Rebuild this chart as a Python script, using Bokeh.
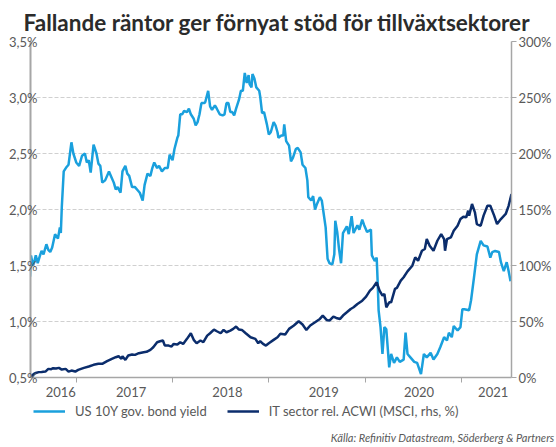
from bokeh.plotting import figure
from bokeh.models import (Range1d, LinearAxis, FixedTicker, CustomJSTickFormatter,
                          Legend, LegendItem, Label)
from bokeh.embed import file_html
from bokeh.resources import INLINE

# ---------------- data ----------------
yield_t = [2016.52, 2016.53, 2016.55, 2016.56, 2016.58, 2016.60, 2016.62, 2016.64, 2016.66, 2016.69,
           2016.71, 2016.73, 2016.75, 2016.78, 2016.81, 2016.83, 2016.84, 2016.85, 2016.87, 2016.90,
           2016.92, 2016.95, 2016.97, 2017.00, 2017.03, 2017.06, 2017.09, 2017.11, 2017.13, 2017.15,
           2017.18, 2017.21, 2017.23, 2017.25, 2017.27, 2017.30, 2017.34, 2017.36, 2017.39, 2017.41,
           2017.43, 2017.46, 2017.48, 2017.51, 2017.53, 2017.55, 2017.58, 2017.61, 2017.64, 2017.66,
           2017.69, 2017.71, 2017.74, 2017.77, 2017.79, 2017.81, 2017.84, 2017.86, 2017.89, 2017.92,
           2017.95, 2017.97, 2018.00, 2018.02, 2018.05, 2018.06, 2018.08, 2018.10, 2018.12, 2018.15,
           2018.17, 2018.19, 2018.22, 2018.24, 2018.26, 2018.28, 2018.30, 2018.33, 2018.34, 2018.37,
           2018.39, 2018.41, 2018.44, 2018.46, 2018.49, 2018.52, 2018.54, 2018.56, 2018.58, 2018.60,
           2018.62, 2018.64, 2018.66, 2018.69, 2018.71, 2018.73, 2018.75, 2018.77, 2018.79, 2018.80,
           2018.82, 2018.83, 2018.85, 2018.87, 2018.90, 2018.91, 2018.93, 2018.95, 2018.98, 2019.00,
           2019.02, 2019.05, 2019.07, 2019.09, 2019.10, 2019.13, 2019.15, 2019.16, 2019.18, 2019.21,
           2019.23, 2019.25, 2019.28, 2019.30, 2019.33, 2019.35, 2019.38, 2019.40, 2019.41, 2019.44,
           2019.46, 2019.48, 2019.50, 2019.53, 2019.55, 2019.59, 2019.61, 2019.63, 2019.66, 2019.68,
           2019.69, 2019.71, 2019.73, 2019.75, 2019.77, 2019.81, 2019.83, 2019.86, 2019.88, 2019.92,
           2019.94, 2019.97, 2019.99, 2020.02, 2020.06, 2020.07, 2020.10, 2020.12, 2020.13, 2020.14,
           2020.16, 2020.18, 2020.20, 2020.22, 2020.25, 2020.27, 2020.30, 2020.33, 2020.36, 2020.40,
           2020.42, 2020.44, 2020.47, 2020.51, 2020.54, 2020.58, 2020.61, 2020.64, 2020.68, 2020.71,
           2020.75, 2020.78, 2020.82, 2020.85, 2020.87, 2020.90, 2020.92, 2020.96, 2020.99, 2021.01,
           2021.03, 2021.08, 2021.10, 2021.13, 2021.16, 2021.20, 2021.23, 2021.27, 2021.30, 2021.32,
           2021.35, 2021.39, 2021.41, 2021.44, 2021.47, 2021.49, 2021.51]
yield_v = [1.40, 1.59, 1.50, 1.52, 1.59, 1.52, 1.58, 1.63, 1.60, 1.69,
           1.64, 1.62, 1.66, 1.78, 1.74, 1.84, 1.79, 2.02, 2.34, 2.38,
           2.40, 2.60, 2.50, 2.42, 2.39, 2.48, 2.50, 2.42, 2.44, 2.33,
           2.58, 2.50, 2.41, 2.39, 2.24, 2.26, 2.34, 2.30, 2.24, 2.18,
           2.20, 2.15, 2.34, 2.39, 2.32, 2.30, 2.20, 2.20, 2.17, 2.15,
           2.08, 2.22, 2.32, 2.30, 2.37, 2.42, 2.37, 2.39, 2.34, 2.37,
           2.37, 2.49, 2.44, 2.54, 2.64, 2.66, 2.85, 2.85, 2.88, 2.87,
           2.90, 2.85, 2.81, 2.75, 2.78, 2.85, 2.95, 2.95, 2.96, 3.06,
           2.92, 2.89, 2.93, 2.90, 2.85, 2.84, 2.85, 2.95, 2.95, 2.87,
           2.87, 2.84, 2.90, 2.98, 3.06, 3.06, 3.22, 3.13, 3.20, 3.12,
           3.09, 3.21, 3.17, 3.09, 3.06, 3.01, 2.86, 2.87, 2.76, 2.67,
           2.69, 2.78, 2.75, 2.69, 2.64, 2.66, 2.66, 2.76, 2.61, 2.57,
           2.43, 2.46, 2.54, 2.55, 2.51, 2.40, 2.37, 2.26, 2.11, 2.08,
           2.12, 2.00, 2.05, 2.11, 2.08, 1.84, 1.56, 1.52, 1.51, 1.60,
           1.90, 1.80, 1.64, 1.52, 1.79, 1.85, 1.78, 1.94, 1.79, 1.86,
           1.82, 1.91, 1.86, 1.80, 1.82, 1.59, 1.54, 1.57, 1.36, 1.10,
           0.95, 0.71, 0.95, 0.93, 0.59, 0.71, 0.63, 0.68, 0.64, 0.66,
           0.90, 0.71, 0.68, 0.64, 0.63, 0.53, 0.71, 0.68, 0.72, 0.66,
           0.71, 0.77, 0.86, 0.83, 0.90, 0.86, 0.96, 0.92, 0.95, 1.11,
           1.11, 1.10, 1.19, 1.39, 1.60, 1.72, 1.68, 1.67, 1.57, 1.62,
           1.63, 1.62, 1.53, 1.45, 1.53, 1.45, 1.36]

it_t = [2016.52, 2016.54, 2016.56, 2016.58, 2016.61, 2016.64, 2016.68, 2016.71, 2016.74, 2016.76,
        2016.79, 2016.82, 2016.85, 2016.89, 2016.92, 2016.95, 2016.99, 2017.02, 2017.08, 2017.13,
        2017.18, 2017.23, 2017.27, 2017.32, 2017.37, 2017.41, 2017.44, 2017.47, 2017.48, 2017.51,
        2017.54, 2017.58, 2017.61, 2017.65, 2017.70, 2017.73, 2017.77, 2017.80, 2017.84, 2017.87,
        2017.90, 2017.92, 2017.96, 2017.99, 2018.01, 2018.05, 2018.08, 2018.11, 2018.15, 2018.19,
        2018.22, 2018.25, 2018.29, 2018.32, 2018.36, 2018.39, 2018.43, 2018.46, 2018.50, 2018.53,
        2018.56, 2018.60, 2018.63, 2018.66, 2018.69, 2018.72, 2018.76, 2018.81, 2018.86, 2018.89,
        2018.91, 2018.94, 2018.97, 2019.00, 2019.05, 2019.09, 2019.12, 2019.17, 2019.21, 2019.26,
        2019.31, 2019.35, 2019.39, 2019.43, 2019.48, 2019.53, 2019.56, 2019.60, 2019.63, 2019.67,
        2019.70, 2019.74, 2019.77, 2019.81, 2019.85, 2019.88, 2019.92, 2019.97, 2020.01, 2020.05,
        2020.08, 2020.12, 2020.15, 2020.18, 2020.20, 2020.22, 2020.25, 2020.27, 2020.31, 2020.33,
        2020.37, 2020.40, 2020.44, 2020.49, 2020.52, 2020.55, 2020.59, 2020.62, 2020.64, 2020.67,
        2020.71, 2020.75, 2020.79, 2020.82, 2020.83, 2020.85, 2020.89, 2020.92, 2020.96, 2020.99,
        2021.02, 2021.05, 2021.07, 2021.08, 2021.11, 2021.14, 2021.16, 2021.20, 2021.23, 2021.27,
        2021.30, 2021.34, 2021.37, 2021.41, 2021.46, 2021.49, 2021.52]
it_v = [0.0, 1.5, 3.3, 4.0, 4.8, 5.0, 5.3, 7.7, 7.4, 8.3,
        8.0, 8.6, 7.1, 7.7, 5.3, 6.2, 5.3, 6.8, 8.6, 9.8,
        11.3, 12.2, 12.2, 14.6, 16.6, 18.1, 19.0, 16.6, 19.0, 15.7,
        19.6, 20.5, 20.2, 21.7, 22.6, 22.9, 24.7, 27.0, 31.5, 32.4,
        33.0, 28.5, 28.5, 27.6, 30.0, 29.4, 31.5, 30.0, 34.5, 39.5,
        33.6, 30.6, 33.0, 31.5, 37.4, 39.5, 42.8, 41.3, 39.5, 42.5,
        40.4, 41.9, 43.4, 45.5, 42.8, 42.5, 39.5, 35.9, 34.5, 30.6,
        32.4, 30.0, 28.5, 30.6, 33.6, 35.9, 39.0, 38.4, 43.4, 46.4,
        50.2, 47.3, 42.5, 46.4, 49.3, 52.3, 55.3, 51.4, 50.8, 54.4,
        53.2, 52.3, 55.3, 58.2, 61.2, 62.7, 65.6, 68.6, 72.2, 77.6,
        80.0, 85.0, 77.6, 73.1, 74.6, 62.7, 67.1, 67.1, 79.1, 80.0,
        86.5, 89.5, 94.8, 99.8, 107.2, 104.3, 113.2, 114.7, 123.6, 117.7,
        113.2, 122.1, 128.1, 123.6, 113.2, 123.6, 125.1, 131.0, 135.5, 141.5,
        143.6, 143.0, 149.0, 144.5, 154.9, 147.5, 137.0, 135.5, 144.5, 153.3,
        153.3, 144.5, 137.0, 141.5, 146.0, 153.3, 163.8]

year_labels = ["2016", "2017", "2018", "2019", "2020", "2021"]
lhs_ticks = [0.5, 1.0, 1.5, 2.0, 2.5, 3.0, 3.5]
rhs_ticks = [0, 50, 100, 150, 200, 250, 300]
series_names = ["US 10Y gov. bond yield", "IT sector rel. ACWI (MSCI, rhs, %)"]

# ---------------- layout / style (kept apart from the data) ----------------
year_label_pos = [2016.84, 2017.57, 2018.57, 2019.57, 2020.56, 2021.33]
year_boundaries = [2017.0, 2018.0, 2019.0, 2020.0, 2021.0]

FONT = "Lato"
LIGHT = "#1AA0DD"
DARK = "#0B2D6C"
AXIS = "#A6A6A6"
TXT = "#595959"

p = figure(width=556, height=400,
           x_range=Range1d(2016.525, 2021.52), y_range=Range1d(0.5, 3.5),
           output_backend="svg", toolbar_location=None,
           min_border_left=30, min_border_right=45, min_border_top=41, min_border_bottom=23)
p.outline_line_color = None
p.extra_y_ranges = {"pct": Range1d(0, 300)}

# title
p.title.text = "Fallande räntor ger förnyat stöd för tillväxtsektorer"
p.title.align = "left"
p.title.offset = -7
p.title.standoff = 11
p.title.text_font = FONT
p.title.text_font_style = "bold"
p.title.text_font_size = "22.5px"
p.title.text_color = "#2B2B2B"

# bottom axis
xa = p.xaxis[0]
xa.ticker = FixedTicker(ticks=year_label_pos, minor_ticks=year_boundaries)
xa.formatter = CustomJSTickFormatter(
    args=dict(pos=year_label_pos, labels=year_labels),
    code="""
let best = 0, d = 1e9;
for (let i = 0; i < pos.length; i++) { const e = Math.abs(pos[i] - tick); if (e < d) { d = e; best = i; } }
return labels[best];
""")
xa.major_tick_out = 0
xa.major_tick_in = 0
xa.minor_tick_out = 5
xa.minor_tick_in = 0
xa.minor_tick_line_color = AXIS
xa.minor_tick_line_width = 1
xa.axis_line_color = AXIS
xa.axis_line_width = 1.5
xa.major_label_standoff = 4
xa.major_label_text_font = FONT
xa.major_label_text_font_size = "13px"
xa.major_label_text_color = TXT

# left axis
ya = p.yaxis[0]
ya.ticker = FixedTicker(ticks=lhs_ticks)
ya.formatter = CustomJSTickFormatter(code="return tick.toFixed(1).replace('.', ',') + '%';")
ya.major_tick_out = 0
ya.major_tick_in = 0
ya.minor_tick_line_color = None
ya.axis_line_color = AXIS
ya.axis_line_width = 2
ya.major_label_standoff = -7
ya.major_label_text_font = FONT
ya.major_label_text_font_size = "13px"
ya.major_label_text_color = TXT

# right axis
ra = LinearAxis(y_range_name="pct", ticker=FixedTicker(ticks=rhs_ticks),
                formatter=CustomJSTickFormatter(code="return tick.toFixed(0) + '%';"))
ra.major_tick_out = 5
ra.major_tick_in = 0
ra.major_tick_line_color = AXIS
ra.minor_tick_line_color = None
ra.axis_line_color = AXIS
ra.axis_line_width = 1.5
ra.major_label_standoff = 2
ra.major_label_text_font = FONT
ra.major_label_text_font_size = "13px"
ra.major_label_text_color = TXT
p.add_layout(ra, "right")

# grid
p.xgrid.visible = False
p.ygrid.ticker = FixedTicker(ticks=lhs_ticks)
p.ygrid.grid_line_color = "#D0D0D0"
p.ygrid.grid_line_dash = "4 2"
p.ygrid.grid_line_width = 1

# lines
p.line(yield_t, yield_v, color=LIGHT, line_width=2.5)
p.line(it_t, it_v, y_range_name="pct", color=DARK, line_width=2.5)

# ---------------- legend + source strip (separate root, no frame alignment) ----------------
q = figure(width=556, height=47, x_range=Range1d(0, 1), y_range=Range1d(0, 1),
           output_backend="svg", toolbar_location=None,
           x_axis_location=None, y_axis_location=None,
           min_border_left=0, min_border_right=0, min_border_top=0, min_border_bottom=0)
q.outline_line_color = None
q.xgrid.visible = False
q.ygrid.visible = False
# same series, outside this strip's view: only their legend samples are shown
g1 = q.line(yield_t, yield_v, color=LIGHT, line_width=2.5)
g2 = q.line(it_t, it_v, color=DARK, line_width=2.5)

legend = Legend(items=[LegendItem(label=series_names[0], renderers=[g1]),
                       LegendItem(label=series_names[1], renderers=[g2])],
                orientation="horizontal", location=(33, 26),
                glyph_width=32, glyph_height=20, label_standoff=10, spacing=20,
                padding=0, margin=0, border_line_color=None, background_fill_alpha=0,
                label_text_font=FONT, label_text_font_size="13px", label_text_color=TXT)
q.add_layout(legend)
q.add_layout(Label(x=554, y=10, x_units="screen", y_units="screen",
                   text="Källa: Refinitiv Datastream, Söderberg & Partners",
                   text_font=FONT, text_font_style="italic", text_font_size="11px",
                   text_align="right", text_baseline="middle", text_color=TXT))

open("out.html", "w").write(file_html([p, q], INLINE))
